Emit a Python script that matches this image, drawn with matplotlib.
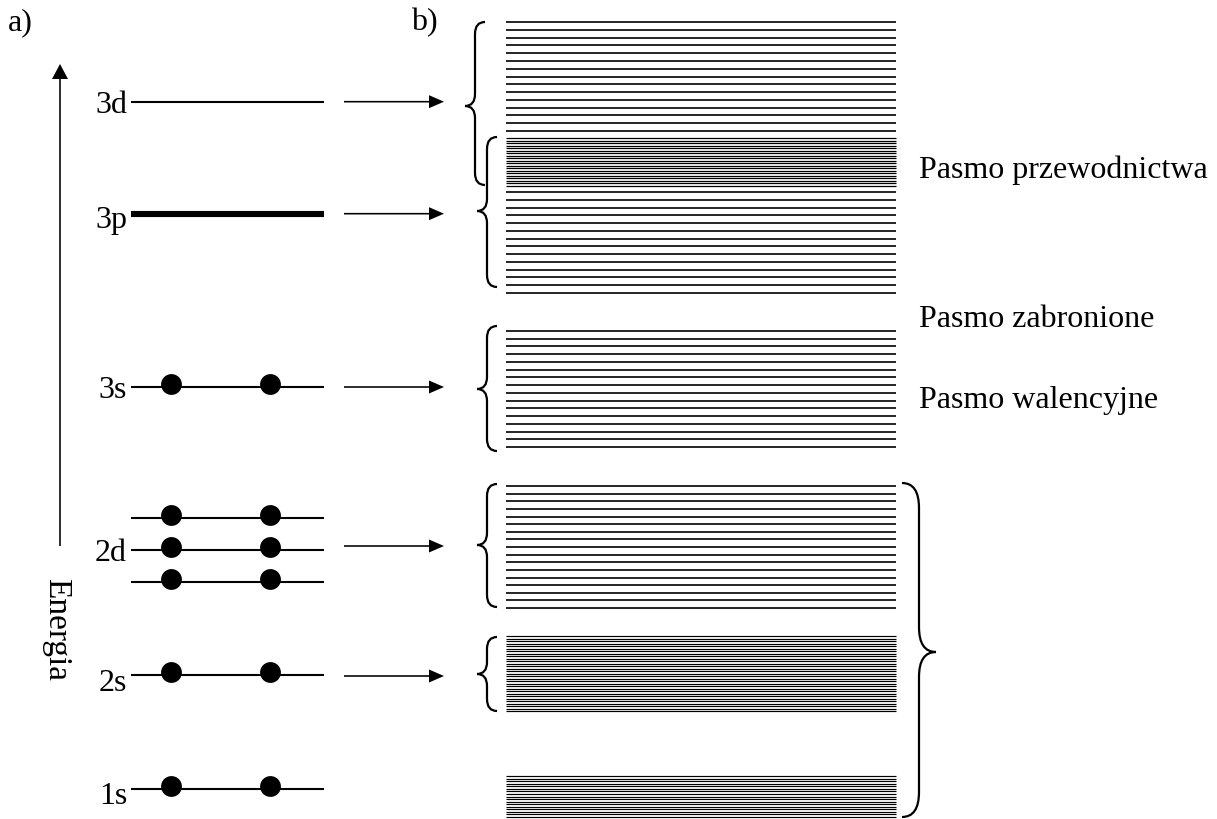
import numpy as np
import matplotlib
matplotlib.use("Agg")
import matplotlib.pyplot as plt
from matplotlib.path import Path
from matplotlib.patches import PathPatch, Rectangle

# ---------------- data ----------------
# a) atomic levels (pixel-like energy coordinate, top = high energy)
level_names = ["3d", "3p", "3s", "2d", "2d", "2d", "2s", "1s"]
level_y = [102.7, 214.7, 388, 519, 551, 583, 676, 790]
level_width = [1.5, 4.4, 1.5, 1.5, 1.5, 1.5, 1.5, 1.5]
level_has_label = [True, True, True, False, True, False, True, True]
level_electrons = [0, 0, 2, 2, 2, 2, 2, 2]
electron_x = [171, 270]
label_dy = [10, 13, 10, 0, 10, 0, 15, 14]

# arrows from levels to bands
arrow_y = [102.7, 214.7, 388, 547, 677]

# b) bands: (top, bottom, number of sub-levels)
band_top = [23, 139, 193, 332, 487, 637, 777]
band_bottom = [132, 187, 294, 448, 609, 712, 818]
band_lines = [15, 20, 14, 16, 17, 31, 17]
band_lw = [1.2, 0.9, 1.2, 1.2, 1.2, 0.85, 0.85]

# braces: (top, bottom, tip y)
brace_top = [23, 138, 327, 485, 638]
brace_bottom = [186, 288, 452, 608, 712]
brace_tip = [107, 212, 390, 546, 675]
brace_body_x = [475, 487, 487, 487, 487]

big_brace = (484, 818, 653)

band_labels = ["Pasmo przewodnictwa", "Pasmo zabronione", "Pasmo walencyjne"]
band_label_y = [178, 327, 408]
band_label_clip = [179, None, 411]

# ---------------- figure ----------------
W, H = 1217, 820
fig = plt.figure(figsize=(W / 100, H / 100), dpi=100)
ax = fig.add_axes([0, 0, 1, 1])
ax.set_xlim(0, W)
ax.set_ylim(H, 0)
ax.axis("off")

FONT = "Liberation Serif"
FS = 23

# panel labels
ax.text(8, 30, "a)", fontsize=FS, family=FONT, va="baseline", ha="left")
ax.text(411, 30, "b)", fontsize=FS, family=FONT, va="baseline", ha="left")

# energy axis
ax.arrow(60, 547, 0, -482, width=1.6, head_width=16, head_length=15,
         length_includes_head=True, color="black", lw=0)
ax.text(56, 630, "Energia", fontsize=FS + 1, family=FONT, rotation=-90,
        ha="center", va="center")

# atomic levels
lx0, lx1 = 131, 324
for name, y, lw, lab, ne, dy in zip(level_names, level_y, level_width,
                                    level_has_label, level_electrons, label_dy):
    ax.plot([lx0, lx1], [y, y], color="black", lw=lw, solid_capstyle="butt")
    if lab:
        ax.text(127, y + dy, name, fontsize=FS, family=FONT,
                ha="right", va="baseline")
    if ne:
        ax.scatter(electron_x[:ne], [y - 3] * ne, s=225, color="black",
                   zorder=3, linewidths=0)

# arrows to bands
for y in arrow_y:
    ax.arrow(344, y, 100, 0, width=1.6, head_width=13, head_length=15,
             length_includes_head=True, color="black", lw=0)

# bands
bx0, bx1 = 506, 896
for t, b, n, lw in zip(band_top, band_bottom, band_lines, band_lw):
    ys = np.linspace(t, b, n)
    ax.hlines(ys, bx0, bx1, color="black", lw=lw)


def brace(x, y0, y1, ym, tip, curl, r=12):
    verts = [(x + curl, y0), (x, y0), (x, y0 + r), (x, ym - r), (x, ym),
             (x + tip, ym),
             (x + tip, ym), (x, ym), (x, ym + r), (x, y1 - r), (x, y1),
             (x + curl, y1)]
    codes = [Path.MOVETO, Path.CURVE3, Path.CURVE3, Path.LINETO, Path.CURVE3,
             Path.CURVE3,
             Path.MOVETO, Path.CURVE3, Path.CURVE3, Path.LINETO, Path.CURVE3,
             Path.CURVE3]
    ax.add_patch(PathPatch(Path(verts, codes), fill=False, lw=1.6,
                           edgecolor="black", capstyle="butt"))


for t, b, m, x in zip(brace_top, brace_bottom, brace_tip, brace_body_x):
    brace(x, t, b, m, -10, 10)

brace(919, big_brace[0], big_brace[1], big_brace[2], 17, -17, r=25)

# band labels
for txt, y, clip in zip(band_labels, band_label_y, band_label_clip):
    t = ax.text(919, y, txt, fontsize=FS, family=FONT, ha="left",
                va="baseline")
    if clip is not None:
        rect = Rectangle((0, 0), W, clip, transform=ax.transData)
        t.set_clip_path(rect)

fig.savefig("out.png", dpi=100)
